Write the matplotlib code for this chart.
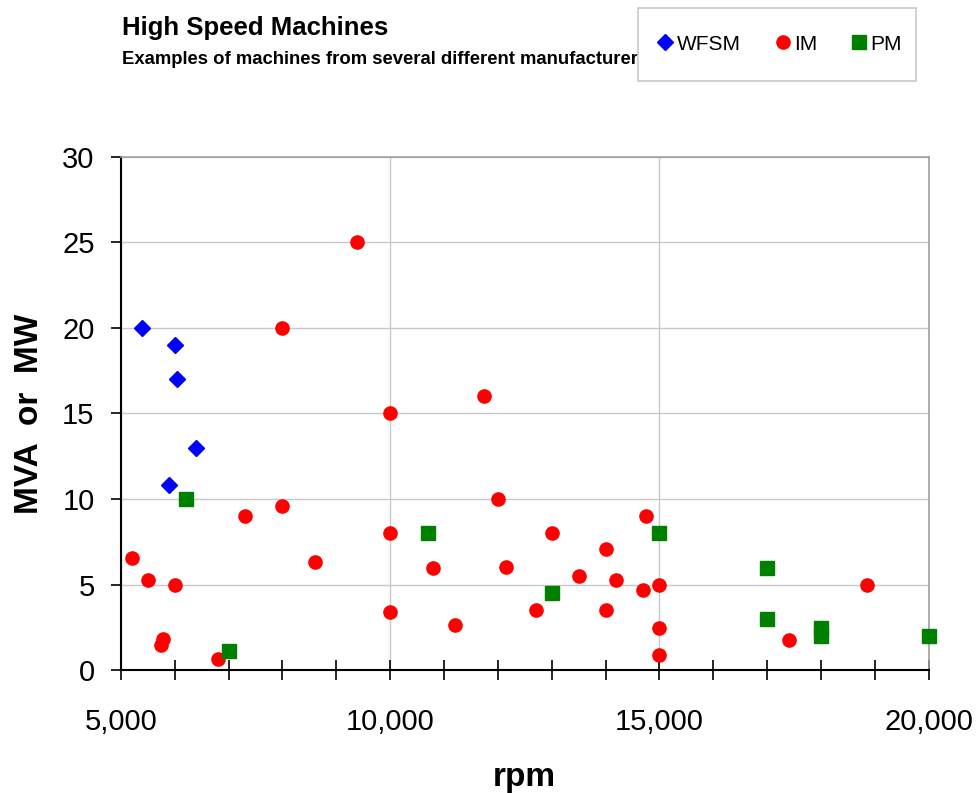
import matplotlib
matplotlib.use("Agg")
import matplotlib.pyplot as plt
from matplotlib.patches import Rectangle
from matplotlib.ticker import MultipleLocator, FuncFormatter

wfsm_rpm = [5400, 6000, 6050, 6400, 5900]
wfsm_mva = [20, 19, 17, 13, 10.8]

im_rpm = [9380, 8000, 10000, 7300, 8000, 10000, 5200, 5500, 6000, 8600, 10800,
          10000, 5780, 5740, 6800, 11750, 12000, 12150, 11200, 13000, 12700,
          13500, 14000, 14000, 14200, 14750, 14700, 15000, 15000, 15000, 17400, 18850]
im_mva = [25, 20, 15, 9, 9.6, 8, 6.55, 5.25, 5, 6.3, 6,
          3.4, 1.8, 1.5, 0.65, 16, 10, 6.05, 2.65, 8, 3.55,
          5.5, 7.1, 3.55, 5.3, 9, 4.7, 5, 2.5, 0.88, 1.75, 5]

pm_rpm = [6200, 7000, 10700, 13000, 15000, 17000, 17000, 18000, 18000, 20000]
pm_mva = [10, 1.1, 8, 4.5, 8, 6, 3, 2.5, 2, 2]

plt.rcParams['font.family'] = ['Liberation Sans', 'DejaVu Sans']

W, H = 977, 793
fig = plt.figure(figsize=(W / 100, H / 100), dpi=100)
ax = fig.add_axes([0.1238, 0.1547, 0.8266, 0.6479])

ax.plot(wfsm_rpm, wfsm_mva, linestyle='none', marker='D', ms=8.5, color='#0000ff', label='WFSM', clip_on=False, zorder=3)
ax.plot(im_rpm, im_mva, linestyle='none', marker='o', ms=9.5, color='#ff0000', label='IM', clip_on=False, zorder=3)
ax.plot(pm_rpm, pm_mva, linestyle='none', marker='s', ms=9.5, color='#008000', label='PM', clip_on=False, zorder=3)

ax.set_xlim(5000, 20000)
ax.set_ylim(0, 30)
ax.xaxis.set_major_locator(MultipleLocator(5000))
ax.xaxis.set_minor_locator(MultipleLocator(1000))
ax.yaxis.set_major_locator(MultipleLocator(5))
ax.xaxis.set_major_formatter(FuncFormatter(lambda v, p: f"{int(v):,}"))

ax.grid(True, which='major', axis='both', color='#c8c8c8', lw=1.0, zorder=0)
ax.set_axisbelow(True)
for s in ['top', 'right']:
    ax.spines[s].set_color('#a0a0a0')
    ax.spines[s].set_linewidth(1.2)
for s in ['left', 'bottom']:
    ax.spines[s].set_color('black')
    ax.spines[s].set_linewidth(1.5)

ax.tick_params(axis='y', which='major', direction='out', length=7, width=1.2, labelsize=21, pad=12)
ax.tick_params(axis='x', which='both', direction='inout', length=14, width=1.2, labelsize=21, pad=20)
ax.tick_params(axis='x', which='minor', length=14)

ax.set_xlabel('rpm', fontsize=24, fontweight='bold', labelpad=19)
ax.set_ylabel('MVA  or  MW', fontsize=24, fontweight='bold', labelpad=12)

fig.text(0.1249, 1 - 35 / H, 'High Speed Machines', fontsize=18.5, fontweight='bold',
         va='baseline', ha='left')
fig.text(0.1249, 1 - 63.5 / H, 'Examples of machines from several different manufacturers', fontsize=13.3,
         fontweight='bold', va='baseline', ha='left')

# legend box
bx0, by0, bx1, by1 = 638, 8, 916, 81
box = Rectangle((bx0 / W, 1 - by1 / H), (bx1 - bx0) / W, (by1 - by0) / H,
                transform=fig.transFigure, facecolor='white', edgecolor='#c8c8c8',
                lw=1.2, zorder=9)
fig.add_artist(box)

leg = fig.legend(loc='center', bbox_to_anchor=((bx0 + bx1) / 2 / W + 3.5 / W, 1 - 44 / H), ncol=3, fontsize=15,
                 frameon=False, handlelength=0.6, handletextpad=0.25, columnspacing=1.7,
                 borderpad=0, borderaxespad=0)
leg.set_zorder(10)

fig.savefig('out.png', dpi=100)
